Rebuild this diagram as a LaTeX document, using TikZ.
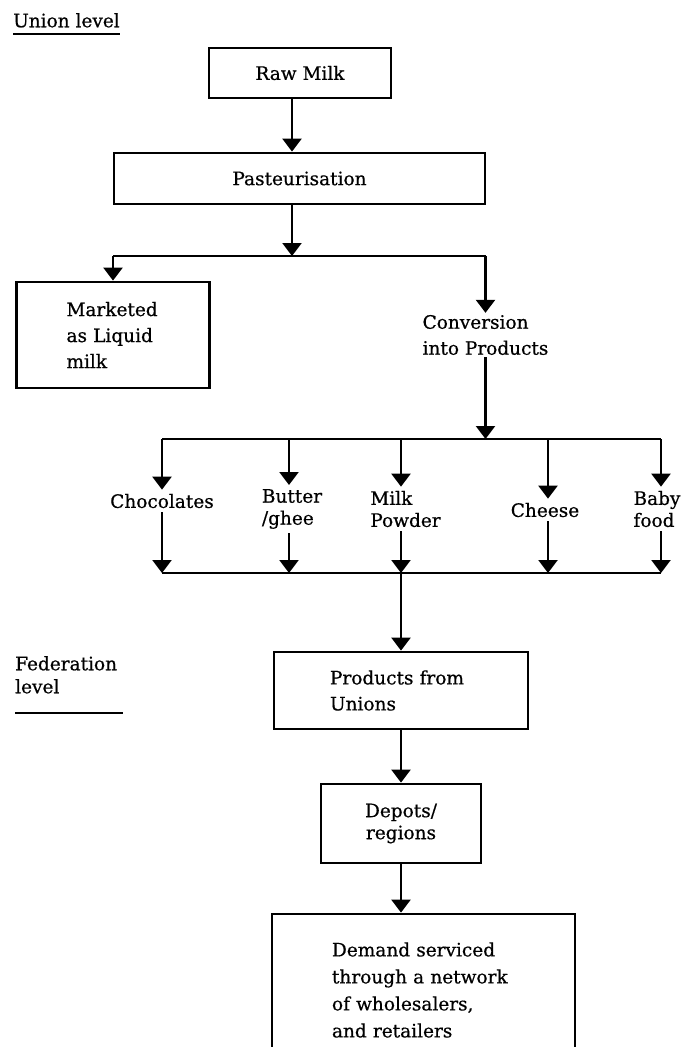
\documentclass[tikz,border=0pt]{standalone}
\usepackage{fontspec}
\setmainfont{DejaVu Serif}[FakeBold=0.6]
\usetikzlibrary{arrows.meta}
\begin{document}
\begin{tikzpicture}[x=1pt,y=-1pt,
  every node/.style={font=\fontsize{18.5}{26}\selectfont, inner sep=0pt},
  boxnode/.style={draw, line width=2.8pt},
  lbl/.style={inner xsep=0pt, inner ysep=4pt, font=\fontsize{18.5}{22}\selectfont},
  flow/.style={line width=2.4pt, -{Triangle[width=19pt,length=13pt]}},
  plain/.style={line width=2.4pt},
]
\useasboundingbox (0,0) rectangle (685,1047);

% level captions
\node[anchor=north west] (union) at (13,13) {Union level};
\draw[plain] ([yshift=-6pt]union.south west) -- ([yshift=-6pt]union.south east);
\node[anchor=north west, align=left, font=\fontsize{18.5}{23}\selectfont] (fed) at (15,656) {Federation\\level};
\draw[plain] ([yshift=-19pt]fed.south west) -- ([yshift=-19pt,xshift=6pt]fed.south east);

% top chain
\node[boxnode, minimum width=182pt, minimum height=50pt] (raw) at (300,73) {Raw Milk};
\node[boxnode, minimum width=371pt, minimum height=51pt] (past) at (299.5,178.5) {Pasteurisation};
\coordinate (ax) at (292,0);
\draw[flow] (raw.south -| ax) -- (past.north -| ax);

\coordinate (sL) at (113,256);
\coordinate (sM) at (292,256);
\coordinate (sR) at (485.5,256);
\draw[flow] (past.south -| ax) -- (sM);
\draw[plain] (sL) -- (sR);

\node[boxnode, minimum width=193pt, minimum height=106pt, text width=93pt, inner xsep=50pt, align=left] (market) at (113,335) {Marketed\\as Liquid\\milk};
\draw[flow] (sL) -- (market.north);

\node[align=left, inner sep=2pt] (conv) at (485.5,335) {Conversion\\into Products};
\draw[flow] (sR) -- (conv.north);

% product row
\coordinate (tc) at (485.5,439);
\coordinate (t1) at (162,439);
\coordinate (t2) at (289,439);
\coordinate (t3) at (401,439);
\coordinate (t4) at (548,439);
\coordinate (t5) at (661,439);
\draw[flow] (conv.south) -- (tc);
\draw[plain] (t1) -- (t5);

\node[lbl] (choc) at (162,501) {Chocolates};
\node[lbl, align=left] (butter) at (292,509) {Butter\\/ghee};
\node[lbl, align=left] (milkp) at (405.5,509) {Milk\\Powder};
\node[lbl] (cheese) at (545,510) {Cheese};
\node[lbl, align=left] (baby) at (657,509) {Baby\\food};

\draw[flow] (t1) -- (t1 |- choc.north);
\draw[flow] (t2) -- (t2 |- butter.north);
\draw[flow] (t3) -- (t3 |- milkp.north);
\draw[flow] (t4) -- (t4 |- cheese.north);
\draw[flow] (t5) -- (t5 |- baby.north);

\coordinate (b1) at (162,573);
\coordinate (b2) at (289,573);
\coordinate (b3) at (401,573);
\coordinate (b4) at (548,573);
\coordinate (b5) at (661,573);
\draw[plain] (b1) -- (b5);
\draw[flow] (choc.south -| b1) -- (b1);
\draw[flow] (butter.south -| b2) -- (b2);
\draw[flow] (milkp.south -| b3) -- (b3);
\draw[flow] (cheese.south -| b4) -- (b4);
\draw[flow] (baby.south -| b5) -- (b5);

% federation chain
\node[boxnode, minimum width=254pt, minimum height=77pt, text width=142pt, inner xsep=56pt, align=left] (prod) at (401,690.5) {Products from\\Unions};
\draw[flow] (b3) -- (prod.north);

\node[boxnode, minimum width=160pt, minimum height=79pt, align=center, font=\fontsize{18.5}{22}\selectfont] (dep) at (401,823.5) {Depots/\\regions};
\draw[flow] (prod.south) -- (dep.north);

\node[boxnode, minimum width=303pt, minimum height=152pt, text width=183pt, inner xsep=60pt, align=left, font=\fontsize{18.5}{27}\selectfont] (dem) at (423.5,990) {Demand serviced\\through a network\\of wholesalers,\\and retailers};
\draw[flow] (dep.south) -- (dep.south |- dem.north);
\end{tikzpicture}
\end{document}
